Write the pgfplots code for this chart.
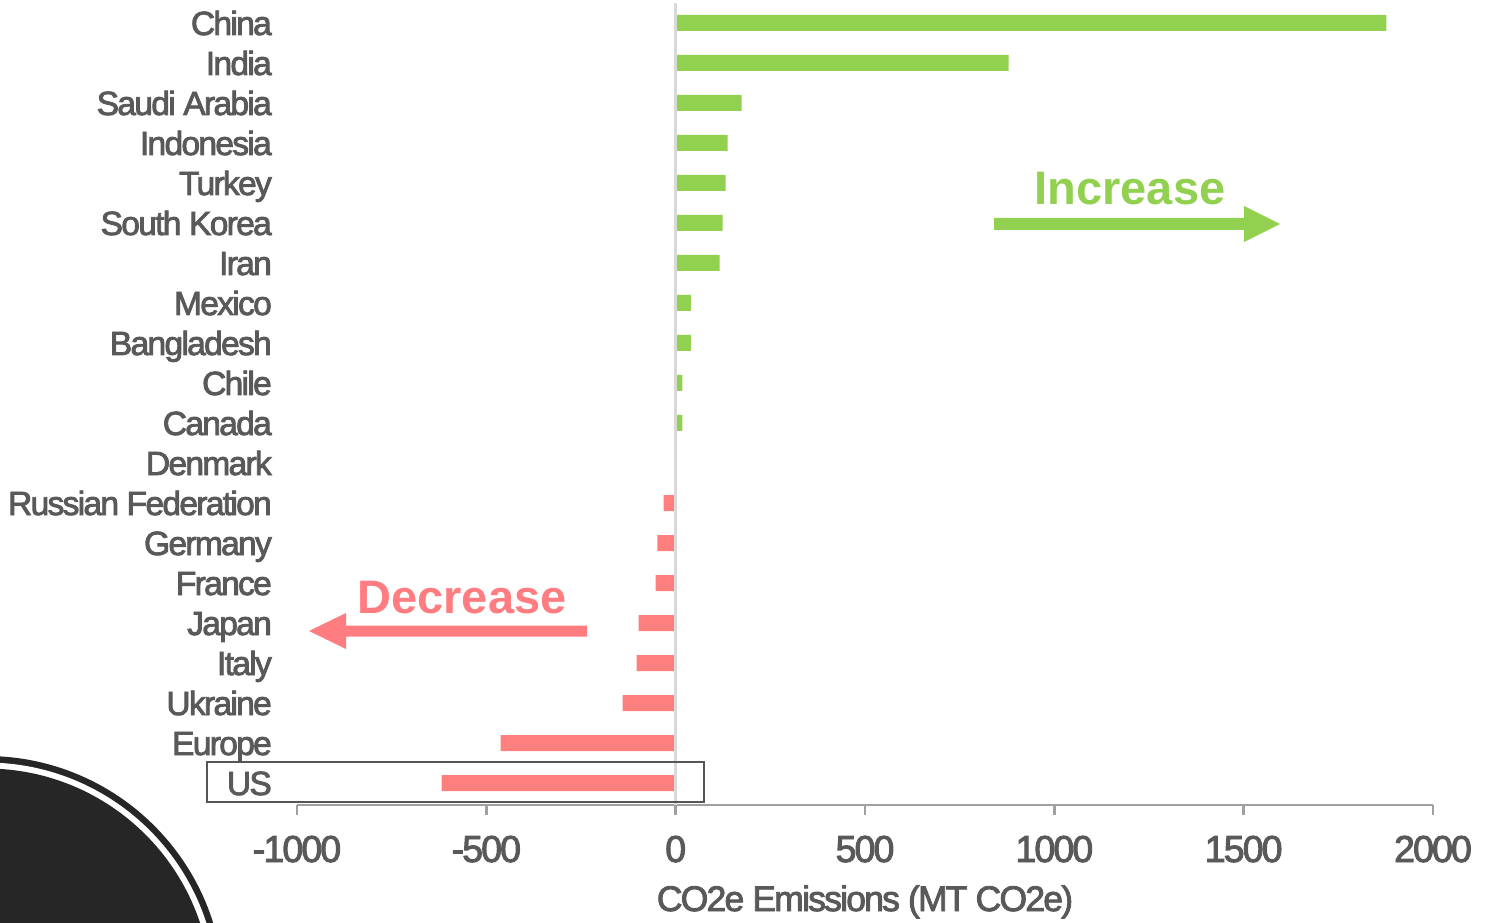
\documentclass[border=0pt]{standalone}
\usepackage{pgfplots}
\pgfplotsset{compat=1.18}
\usepackage{pgfplotstable}
\usepackage{fontspec}
\setmainfont{Liberation Sans}
\newfontfamily\labfont{Liberation Sans}[LetterSpace=-5, FakeBold=2.5]
\definecolor{txt}{HTML}{595959}
\definecolor{grn}{HTML}{92D050}
\definecolor{rd}{HTML}{FF7F7F}
\definecolor{rdtxt}{HTML}{FF7C80}
\definecolor{axg}{HTML}{A0A0A0}
\definecolor{zl}{HTML}{D9D9D9}
\definecolor{dk}{HTML}{262626}
\definecolor{boxc}{HTML}{555555}

\pgfplotstableread{
y v
19 1877
18 879
17 174
16 137
15 132
14 124
13 116
12 40
11 40
10 18
9 18
}\postab
\pgfplotstableread{
y v
7 -32
6 -48
5 -53
4 -98
3 -103
2 -140
1 -462
0 -618
}\negtab

\begin{document}
\begin{tikzpicture}[x=1pt,y=1pt]
\useasboundingbox (0,0) rectangle (1491,922);
\begin{scope}
\clip (0,0) rectangle (1491,922);
\fill[dk] (-14,-72) circle (238);
\fill[white] (-14,-72) circle (231.5);
\fill[dk] (-14,-72) circle (225.5);
\end{scope}
\begin{axis}[
  at={(297pt,117pt)}, anchor=south west,
  scale only axis, width=1136pt, height=802pt,
  xmin=-1000, xmax=2000, ymin=-0.55, ymax=19.5,
  axis lines*=left,
  x axis line style={axg, line width=2.5pt},
  y axis line style={draw=none},
  xtick={-1000,-500,0,500,1000,1500,2000},
  xticklabels={-1000,-500,0,500,1000,1500,2000},
  xtick style={axg, line width=2.5pt},
  xtick align=outside,
  major tick length=10pt,
  ytick={0,...,19},
  ytick style={draw=none},
  yticklabels={US,Europe,Ukraine,Italy,Japan,France,Germany,Russian Federation,Denmark,Canada,Chile,Bangladesh,Mexico,Iran,South Korea,Turkey,Indonesia,Saudi Arabia,India,China},
  yticklabel style={font=\labfont\fontsize{33.5}{33.5}\selectfont, text=txt, anchor=base east, inner sep=0pt, xshift=-15pt, yshift=-12pt},
  xticklabel style={font=\labfont\fontsize{37.5}{37.5}\selectfont, text=txt, anchor=base, inner sep=0pt, yshift=-47pt},
  xlabel={CO2e Emissions (MT CO2e)},
  xlabel style={font=\labfont\fontsize{35.5}{35.5}\selectfont, text=txt, anchor=base, inner sep=0pt, at={(axis description cs:0.5,0)}, yshift=-106pt},
  xbar, bar width=16pt, bar shift=0pt,
  clip=false,
]
\addplot[draw=none, fill=grn] table[x=v, y=y] {\postab};
\addplot[draw=none, fill=rd] table[x=v, y=y] {\negtab};
\draw[zl, line width=3pt] (axis cs:0,-0.55) -- (axis cs:0,19.5);
\end{axis}
\draw[boxc, line width=2.5pt] (207,120) rectangle (704,160);
\fill[grn] (994,692) -- (1244,692) -- (1244,680) -- (1280,698) -- (1244,716) -- (1244,704) -- (994,704) -- cycle;
\fill[rdtxt] (587,285.5) -- (346,285.5) -- (346,273) -- (309,291) -- (346,309) -- (346,296.5) -- (587,296.5) -- cycle;
\node[anchor=base, inner sep=0pt, text=grn, font=\bfseries\fontsize{47}{47}\selectfont] at (1130,717) {Increase};
\node[anchor=base, inner sep=0pt, text=rdtxt, font=\bfseries\fontsize{47}{47}\selectfont] at (462,309) {Decrease};
\end{tikzpicture}
\end{document}
